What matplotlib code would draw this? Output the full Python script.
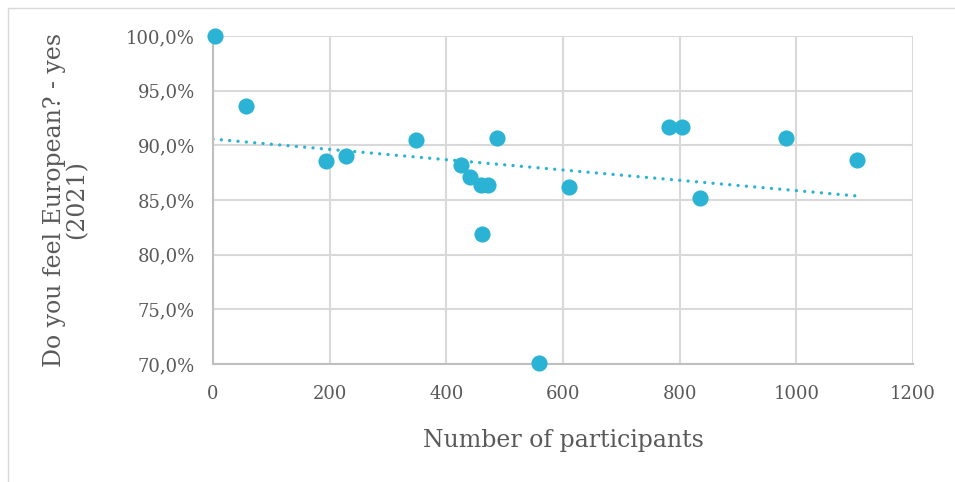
import numpy as np
import matplotlib
matplotlib.use("Agg")
import matplotlib.pyplot as plt
from matplotlib.ticker import FuncFormatter
from matplotlib.patches import Rectangle

participants = [3, 57, 194, 228, 348, 425, 441, 459, 471, 461, 487, 559, 610, 782, 804, 835, 982, 1104]
feel_european = [100.0, 93.6, 88.6, 89.0, 90.5, 88.2, 87.1, 86.4, 86.4, 81.9, 90.7, 70.1, 86.2, 91.7, 91.7, 85.2, 90.7, 88.7]
x_ticks = [0, 200, 400, 600, 800, 1000, 1200]
y_ticks = [70, 75, 80, 85, 90, 95, 100]

plt.rcParams['font.family'] = ['DejaVu Serif']
color = '#2BB3D5'
grid_c = '#D9D9D9'
text_c = '#595959'

fig = plt.figure(figsize=(9.55, 4.82), dpi=100)
fig.patches.append(Rectangle((8/955, -0.01), 1.0, 1 - 8/482 + 0.01, transform=fig.transFigure,
                             fill=False, edgecolor='#D9D9D9', linewidth=1.0))
ax = fig.add_axes([213/955, 1 - 364/482, 700/955, 328/482])

x = np.array(participants, dtype=float)
y = np.array(feel_european, dtype=float)
ax.scatter(x, y, s=135, color=color, zorder=3, clip_on=False, linewidths=0)

m, b = np.polyfit(x, y, 1)
xs = np.array([0, x.max()])
ax.plot(xs, m * xs + b, linestyle=(0, (0.01, 2.5)), color=color, linewidth=2.4,
        dash_capstyle='round', zorder=2)

ax.set_xlim(0, 1200)
ax.set_ylim(70, 100)
ax.set_xticks(x_ticks)
ax.set_yticks(y_ticks)
ax.yaxis.set_major_formatter(FuncFormatter(lambda v, p: f"{v:.1f}%".replace('.', ',')))
ax.grid(True, color=grid_c, linewidth=1.5)
ax.set_axisbelow(True)
for s in ['top', 'right']:
    ax.spines[s].set_visible(False)
for s in ['left', 'bottom']:
    ax.spines[s].set_color('#BFBFBF')
    ax.spines[s].set_linewidth(1.5)
ax.tick_params(axis='both', length=0, labelsize=13, labelcolor=text_c)
ax.tick_params(axis='y', pad=13)
ax.tick_params(axis='x', pad=15)
ax.set_xlabel('Number of participants', fontsize=17, color=text_c, labelpad=19)
ax.set_ylabel('Do you feel European? - yes\n(2021)', fontsize=17, color=text_c, labelpad=27,
              linespacing=1.0)

fig.savefig('out.png', dpi=100)
